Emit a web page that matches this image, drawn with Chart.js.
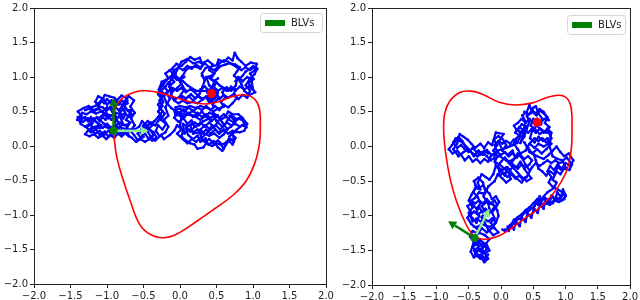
<!DOCTYPE html>
<html>
<head>
<meta charset="utf-8">
<script src="https://cdn.jsdelivr.net/npm/chart.js@4/dist/chart.umd.min.js"></script>
<style>
  body { margin: 0; background: #fff; }
  .panel { position: absolute; top: 0; }
</style>
</head>
<body>
<div class="panel" style="left:0px"><canvas id="left" width="340" height="300"></canvas></div>
<div class="panel" style="left:340px"><canvas id="right" width="300" height="300"></canvas></div>
<script>
const tickValues = [-2, -1.5, -1, -0.5, 0, 0.5, 1, 1.5, 2];
const legendLabel = "BLVs";

// left panel: walk traced in several passes (null = pen up)
const walkLeftA = [
  [0.43,0.76],[0.36,0.70],[0.40,0.63],[0.47,0.68],[0.52,0.77],[0.45,0.84],[0.50,0.92],[0.42,0.97],[0.47,1.05],[0.40,1.10],
  [0.45,1.18],[0.38,1.24],[0.30,1.20],[0.27,1.28],[0.20,1.25],[0.14,1.29],[0.08,1.22],[0.02,1.16],[-0.05,1.19],[-0.11,1.12],
  [-0.06,1.05],[-0.14,1.00],[-0.08,0.93],[-0.15,0.86],[-0.10,0.79],[-0.04,0.84],[0.02,0.90],[0.06,0.82],[0.01,0.74],[0.08,0.69],
  [0.15,0.75],[0.21,0.69],[0.27,0.76],[0.31,0.86],[0.34,0.95],[0.30,1.05],[0.35,1.13],[0.50,1.17],[0.53,1.25],[0.60,1.22],
  [0.66,1.28],[0.72,1.24],[0.75,1.35],[0.79,1.27],[0.84,1.22],[0.90,1.16],[0.97,1.21],[1.05,1.19],[1.03,1.10],[0.96,1.05],
  [1.01,0.97],[0.94,0.91],[0.99,0.83],[1.03,0.78],[0.95,0.74],[0.88,0.80],[0.84,0.90],[0.79,0.99],[0.76,0.87],[0.70,0.80],
  [0.64,0.85],[0.58,0.78],[0.62,0.70],[0.56,0.64],[0.60,0.57],[0.52,0.54],[0.45,0.50],[0.50,0.42],[0.43,0.36],[0.36,0.42],
  [0.30,0.50],[0.24,0.44],[0.18,0.52],[0.12,0.46],[0.05,0.53],[-0.02,0.48],[-0.08,0.41],[-0.02,0.35],[0.05,0.40],[0.10,0.32],
  [0.16,0.37],[0.20,0.28],[0.14,0.21],[0.08,0.26],[0.11,0.16],[0.18,0.10],[0.24,0.15],[0.28,0.06],[0.35,0.11],[0.39,0.02],
  [0.46,0.07],[0.52,-0.02],[0.58,-0.07],[0.62,0.01],[0.67,0.08],[0.72,0.02],[0.76,0.12],[0.70,0.18],[0.78,0.24],[0.85,0.30],
  [0.91,0.27],[0.88,0.36],[0.80,0.40],[0.74,0.34],[0.66,0.39],[0.61,0.30],[0.55,0.24],[0.49,0.30],[0.42,0.24],[0.34,0.30],
  [0.28,0.24],[0.33,0.18],[0.40,0.15],[0.47,0.18],[0.54,0.12],[0.60,0.17],[0.65,0.24],[0.58,0.34],[0.52,0.44],[0.40,0.48],
  [0.28,0.38],[0.18,0.44],[0.07,0.46],[-0.05,0.50],[-0.12,0.55],[-0.18,0.62],[-0.22,0.72],[-0.17,0.80],[-0.24,0.88],[-0.19,0.96],
  [-0.25,0.93],[-0.29,0.82],[-0.23,0.64],[-0.28,0.55],[-0.21,0.47],[-0.26,0.38],[-0.19,0.32],[-0.24,0.24],[-0.30,0.30],[-0.33,0.22],
  [-0.28,0.14],[-0.34,0.08],[-0.40,0.14],[-0.45,0.22],[-0.38,0.30],[-0.44,0.36],[-0.50,0.30],[-0.55,0.21],[-0.50,0.13],[-0.58,0.09],
  [-0.63,0.16],[-0.68,0.22],[-0.62,0.30],[-0.67,0.40],[-0.62,0.48],[-0.68,0.57],[-0.63,0.66],[-0.70,0.72],[-0.76,0.65],[-0.80,0.56],
  [-0.75,0.48],[-0.82,0.42],[-0.78,0.32],[-0.84,0.26],[-0.90,0.32],[-0.87,0.42],[-0.93,0.50],[-0.88,0.60],[-0.94,0.66],[-1.00,0.60],
  [-1.05,0.68],[-1.12,0.72],[-1.16,0.64],[-1.10,0.56],[-1.18,0.52],[-1.25,0.58],[-1.32,0.55],[-1.40,0.50],[-1.35,0.44],[-1.41,0.38],
  [-1.33,0.35],[-1.26,0.40],[-1.20,0.33],[-1.28,0.27],[-1.22,0.20],[-1.15,0.24],[-1.10,0.16],[-1.03,0.21],[-0.98,0.13],[-0.93,0.20],
  [-0.98,0.28],[-1.05,0.33],[-1.12,0.40],[-1.05,0.46],[-0.98,0.40],[-1.02,0.52],[-0.96,0.56]
];
const walkLeftB = [
  [-0.92,0.62],[-0.85,0.68],[-0.80,0.73],[-0.74,0.70],[-0.72,0.62],[-0.78,0.58],[-0.84,0.52],[-0.80,0.46],[-0.88,0.48],[-0.95,0.44],
  [-1.02,0.47],[-1.08,0.50],[-1.15,0.47],[-1.22,0.50],[-1.28,0.46],[-1.34,0.48],[-1.38,0.42],[-1.30,0.40],[-1.24,0.36],[-1.18,0.40],
  [-1.14,0.34],[-1.08,0.30],[-1.14,0.26],[-1.20,0.28],[-1.26,0.22],[-1.30,0.17],[-1.24,0.14],[-1.18,0.17],[-1.12,0.12],[-1.06,0.15],
  [-1.01,0.10],[-0.96,0.16],[-0.90,0.12],[-0.85,0.18],[-0.80,0.14],[-0.74,0.19],[-0.70,0.14],[-0.73,0.28],[-0.68,0.34],[-0.74,0.38],
  [-0.70,0.45],[-0.66,0.52],[-0.72,0.52],[-0.76,0.58],[-0.84,0.62],[-0.90,0.70],[-0.97,0.72],[-1.03,0.74],[-1.08,0.64],[-1.12,0.58],
  [-1.06,0.56],[-1.00,0.52],[-0.94,0.56],[-0.86,0.36],[-0.80,0.26],[-0.72,0.24],[-0.62,0.24],[-0.56,0.28],[-0.52,0.36],[-0.46,0.30],
  [-0.42,0.24],[-0.36,0.20],[-0.32,0.12],[-0.38,0.08],[-0.44,0.12],[-0.48,0.18],[-0.54,0.12],[-0.58,0.18],[-0.50,0.26],[-0.42,0.32],
  [-0.35,0.36],[-0.30,0.42],[-0.24,0.50],[-0.30,0.60],[-0.25,0.68],[-0.30,0.75],[-0.26,0.85],[-0.21,0.92],[-0.16,0.98],[-0.20,1.05],
  [-0.14,1.10],[-0.10,1.05],[-0.14,0.92],[-0.12,0.72],[-0.08,0.66],[-0.02,0.62],[0.04,0.66],[0.10,0.62],[0.18,0.64],[0.24,0.62],
  [0.32,0.68],[0.26,0.72],[0.20,0.78],[0.14,0.82],[0.08,0.78],[0.04,0.86],[-0.02,0.96],[0.04,1.02],[0.08,1.10],[0.14,1.14],
  [0.22,1.15],[0.28,1.12],[0.32,1.18],[0.26,1.22],[0.18,1.20],[0.10,1.26],[0.02,1.22],[-0.04,1.10],[-0.09,1.00],[-0.04,0.96],
  [0.04,0.94],[0.10,0.88],[0.22,0.80],[0.30,0.80],[0.36,0.80],[0.40,0.72],[0.46,0.62],[0.54,0.70],[0.48,0.78],[0.40,0.88],
  [0.36,1.00],[0.44,1.02],[0.50,1.10],[0.56,1.16],[0.62,1.18],[0.68,1.20],[0.76,1.18],[0.82,1.14],[0.78,1.08],[0.74,1.02],
  [0.80,0.96],[0.86,1.02],[0.90,1.08],[0.96,1.12],[1.00,1.16],[1.06,1.12],[1.02,1.04],[0.96,0.98],[0.90,0.88],[0.96,0.80],
  [0.92,0.70],[0.86,0.74],[0.80,0.68],[0.74,0.76],[0.76,0.82],[0.70,0.86],[0.66,0.80],[0.60,0.84],[0.54,0.88],[0.48,0.95],
  [0.44,0.86],[0.38,0.78],[0.46,0.56]
];
const walkLeftC = [
  [0.40,0.54],[0.34,0.56],[0.28,0.58],[0.22,0.55],[0.14,0.58],[0.08,0.56],[0.00,0.58],[-0.06,0.56],[-0.04,0.46],[0.02,0.42],
  [0.00,0.30],[0.04,0.22],[0.02,0.14],[0.08,0.08],[0.14,0.04],[0.20,0.02],[0.24,-0.04],[0.32,-0.02],[0.36,0.04],[0.44,0.00],
  [0.50,0.04],[0.56,0.02],[0.60,-0.04],[0.64,0.04],[0.68,0.14],[0.74,0.20],[0.82,0.20],[0.88,0.22],[0.92,0.32],[0.86,0.40],
  [0.80,0.46],[0.72,0.46],[0.66,0.50],[0.62,0.42],[0.56,0.38],[0.50,0.36],[0.46,0.44],[0.40,0.40],[0.32,0.36],[0.26,0.30],
  [0.20,0.34],[0.14,0.30],[0.18,0.18],[0.26,0.20],[0.30,0.12],[0.38,0.20],[0.44,0.30],[0.52,0.20],[0.60,0.22],[0.70,0.28],
  [0.76,0.36],[0.68,0.44]
];
const walkLeftD = [
  [-0.72,0.66],[-0.76,0.62],[-0.80,0.66],[-0.84,0.60],[-0.88,0.66],[-0.92,0.60],[-0.96,0.64],[-1.00,0.68],[-1.04,0.62],[-1.08,0.66],
  [-1.12,0.62],[-1.16,0.58],[-1.22,0.56],[-1.30,0.52],[-1.24,0.54],[-1.18,0.50],[-1.12,0.54],[-1.06,0.50],[-1.00,0.56],[-0.94,0.52],
  [-0.88,0.56],[-0.82,0.50],[-0.76,0.54],[-0.70,0.50],[-0.66,0.46],[-0.70,0.42],[-0.74,0.46],[-0.78,0.40],[-0.82,0.46],[-0.86,0.40],
  [-0.90,0.44],[-0.94,0.38],[-0.98,0.44],[-1.02,0.38],[-1.06,0.42],[-1.10,0.36],[-1.14,0.42],[-1.18,0.36],[-1.22,0.42],[-1.26,0.36],
  [-1.30,0.42],[-1.36,0.38],[-1.40,0.42],[-1.36,0.32],[-1.30,0.28],[-1.24,0.32],[-1.18,0.26],[-1.12,0.30],[-1.06,0.26],[-1.00,0.32],
  [-0.94,0.26],[-0.88,0.30],[-0.82,0.34],[-0.76,0.30],[-0.70,0.32],[-0.74,0.22],[-0.80,0.18],[-0.86,0.22],[-0.92,0.16],[-0.98,0.22],
  [-1.04,0.16],[-1.10,0.22],[-1.16,0.18],[-1.22,0.24],[-1.16,0.28],[-1.10,0.26],[-1.04,0.28],[-0.98,0.26],[-0.92,0.28],[-0.86,0.26],
  [-0.80,0.22],[-0.72,0.16],[-0.66,0.12],[-0.60,0.06],[-0.54,0.10],
  [-0.48,0.06],[-0.42,0.10],[-0.36,0.16],[-0.40,0.22],[-0.46,0.26],[-0.40,0.34],[-0.34,0.30],[-0.30,0.36],[-0.26,0.44],[-0.30,0.50],
  [-0.24,0.58],[-0.28,0.66],[-0.22,0.76],[-0.26,0.80],[-0.20,0.86],[-0.16,0.92],[-0.12,0.84],[-0.18,0.76],[-0.14,0.68],[-0.20,0.56],
  [-0.16,0.44],[-0.22,0.38],[-0.16,0.28],[-0.20,0.20],[-0.26,0.16],[-0.22,0.10],[-0.14,0.16],[-0.08,0.22],[-0.04,0.30],[0.02,0.24],
  [-0.04,0.18],[0.04,0.10],[0.10,0.04],[0.16,0.10],[0.22,0.06],[0.28,0.12],[0.34,0.06],[0.40,0.10],[0.46,0.04],[0.52,0.08],
  [0.58,0.02],[0.64,0.06],[0.70,0.10],[0.74,0.06],[0.72,0.22],[0.66,0.18],[0.60,0.24],[0.54,0.18],[0.48,0.24],[0.42,0.18],
  [0.36,0.24],[0.30,0.18],[0.24,0.24],[0.18,0.20],[0.12,0.24],[0.06,0.18],[0.04,0.32],[0.10,0.28],[0.16,0.32],[0.22,0.28],
  [0.28,0.34],[0.34,0.28],[0.40,0.34],[0.46,0.28],[0.52,0.34],[0.58,0.28],[0.64,0.34],[0.70,0.30],[0.76,0.32],[0.82,0.28],
  [0.88,0.32],[0.84,0.42],[0.78,0.38],[0.72,0.44],[0.66,0.40],[0.60,0.46],[0.54,0.40],[0.48,0.46],[0.42,0.40],[0.36,0.46],
  [0.30,0.42],[0.24,0.48],[0.18,0.42],[0.12,0.48],[0.06,0.42],[0.00,0.46],[-0.06,0.44],[-0.08,0.52],[0.00,0.54],[0.06,0.50],
  [0.12,0.56],[0.18,0.50],[0.24,0.56],[0.30,0.52],[0.36,0.58],[0.42,0.52],[0.48,0.58],[0.54,0.52],[0.60,0.60],[0.66,0.56],
  [0.72,0.62],[0.78,0.70],[0.72,0.74],[0.66,0.70],[0.60,0.74],[0.54,0.68],[0.48,0.72],[0.42,0.66],[0.36,0.72],[0.30,0.68],
  [0.24,0.72],[0.18,0.66],[0.12,0.72],[0.06,0.66],[0.00,0.72],[-0.06,0.68],[-0.12,0.72],[-0.10,0.84],[-0.04,0.80],[0.02,0.84],
  [0.08,0.80], null,
  [0.28,0.82],[0.34,0.86],[0.40,0.80],[0.46,0.86],[0.52,0.80],[0.58,0.84],[0.64,0.80],[0.70,0.84],[0.76,0.80],
  [0.82,0.86],[0.88,0.82],[0.94,0.86],[1.00,0.82],[0.98,0.96],[0.92,1.00],[0.86,0.94],[0.80,1.00],[0.76,0.94], null,
  [0.52,0.98],[0.46,0.94],[0.40,1.00],[0.34,0.96],[0.30,1.02], null,
  [0.06,1.00],[0.00,0.96],[-0.06,1.02],[-0.12,0.96],[-0.08,1.10],[-0.02,1.14],
  [0.04,1.10],[0.10,1.16],[0.16,1.12],[0.22,1.18],[0.28,1.14],[0.34,1.20],[0.40,1.14],[0.46,1.10],[0.52,1.14],[0.54,1.20],
  [0.60,1.24],[0.66,1.22],[0.72,1.18],[0.78,1.14],[0.84,1.10],[0.90,1.14],[0.96,1.10],[1.02,1.14]
];

const curveLeft = [
  [-0.91,0.22],[-0.89,0.53],[-0.78,0.70],[-0.59,0.79],[-0.46,0.80],[-0.27,0.77],[-0.05,0.70],[0.18,0.63],[0.37,0.61],[0.55,0.65],
  [0.73,0.72],[0.91,0.74],[1.03,0.67],[1.09,0.53],[1.10,0.29],[1.09,0.05],[1.03,-0.23],[0.91,-0.50],[0.73,-0.71],[0.46,-0.92],
  [0.23,-1.09],[-0.05,-1.28],[-0.23,-1.33],[-0.41,-1.28],[-0.55,-1.14],[-0.68,-0.80],[-0.80,-0.42],[-0.87,-0.14],[-0.90,0.10],[-0.91,0.22]
];
const dotLeft = [0.43, 0.76];
const baseLeft = [-0.91, 0.22];
const tipsLeft = [[-0.91, 0.70], [-0.43, 0.22]];

// right panel
const walkRightA = [
  [-0.41,-1.32],[-0.36,-1.40],[-0.44,-1.45],[-0.38,-1.52],[-0.30,-1.47],[-0.25,-1.55],[-0.20,-1.62],[-0.26,-1.67],[-0.31,-1.60],[-0.36,-1.56],
  [-0.42,-1.60],[-0.47,-1.52],[-0.43,-1.40],[-0.33,-1.35],[-0.24,-1.41],[-0.18,-1.34],[-0.25,-1.28],[-0.33,-1.25],[-0.38,-1.18],[-0.46,-1.12],
  [-0.52,-1.03],[-0.47,-0.95],[-0.52,-0.86],[-0.45,-0.82],[-0.38,-0.90],[-0.32,-0.82],[-0.36,-0.73],[-0.43,-0.66],[-0.38,-0.58],[-0.42,-0.50],
  [-0.35,-0.45],[-0.28,-0.52],[-0.25,-0.62],[-0.18,-0.68],[-0.14,-0.76],[-0.08,-0.72],[-0.03,-0.80],[-0.08,-0.88],[-0.14,-0.95],[-0.10,-1.04],
  [-0.16,-1.10],[-0.10,-1.18],[-0.04,-1.24],[-0.12,-1.28],[-0.20,-1.20],[-0.25,-1.10],[-0.30,-1.02],[-0.24,-0.94],[-0.30,-0.86],[-0.22,-0.80],
  [-0.27,-0.72],[-0.20,-0.58],[-0.10,-0.50],[-0.05,-0.40],[0.02,-0.46],[0.08,-0.52],[0.15,-0.47],[0.12,-0.38],[0.05,-0.32],[-0.02,-0.26],
  [-0.10,-0.22],[-0.05,-0.14],[-0.12,-0.06],[-0.06,0.02],[-0.11,0.10],[-0.04,0.15],[0.03,0.10],[0.08,0.02],[0.02,-0.06],[0.10,-0.12],
  [0.18,-0.06],[0.22,-0.16],[0.16,-0.24],[0.24,-0.30],[0.30,-0.22],[0.36,-0.32],[0.42,-0.40],[0.47,-0.46],[0.40,-0.50],[0.32,-0.44],
  [0.26,-0.38],[0.18,-0.30],[0.08,-0.20],[-0.02,-0.14],[-0.15,-0.12],[-0.22,-0.05],[-0.28,-0.12],[-0.35,-0.06],[-0.42,-0.14],[-0.48,-0.06],
  [-0.55,0.00],[-0.60,0.08],[-0.66,0.14],[-0.70,0.08],[-0.76,0.02],[-0.81,-0.04],[-0.75,-0.10],[-0.68,-0.06],[-0.62,-0.12],[-0.56,-0.20],
  [-0.50,-0.14],[-0.44,-0.22],[-0.38,-0.18],[-0.32,-0.24],[-0.26,-0.18],[-0.20,-0.22],[-0.16,-0.14],[-0.05,-0.06],[0.08,-0.02],[0.18,0.02],
  [0.25,0.05],[0.30,0.15],[0.22,0.20],[0.28,0.28],[0.35,0.24],[0.38,0.36],[0.33,0.45],[0.40,0.50],[0.44,0.60],[0.48,0.50],
  [0.55,0.45],[0.60,0.52],[0.66,0.48],[0.72,0.42],[0.68,0.34],[0.75,0.28],[0.70,0.20],[0.62,0.25],[0.55,0.30],[0.48,0.22],
  [0.45,0.12],[0.52,0.06],[0.58,0.14],[0.65,0.08],[0.72,0.12],[0.78,0.04],[0.70,-0.04],[0.63,-0.10],[0.56,-0.04],[0.48,-0.10],
  [0.42,-0.02],[0.36,0.06],[0.44,-0.08],[0.56,-0.14],[0.66,-0.18],[0.74,-0.12],[0.80,-0.06],[0.86,0.00],[0.92,-0.08],[0.98,-0.14],
  [1.05,-0.10],[1.12,-0.20],[1.08,-0.28],[1.00,-0.24],[0.94,-0.32],[0.88,-0.26],[0.82,-0.34],[0.76,-0.28],[0.72,-0.36],[0.78,-0.44],
  [0.74,-0.52],[0.80,-0.58],[0.88,-0.62],[0.95,-0.66],[1.00,-0.72],[0.94,-0.78],[0.86,-0.74],[0.80,-0.82],[0.72,-0.78],[0.64,-0.84],
  [0.56,-0.80],[0.60,-0.72],[0.52,-0.86],[0.44,-0.92],[0.36,-0.96],[0.30,-1.04],[0.24,-1.06],[0.18,-1.12],[0.12,-1.18],[0.06,-1.22],
  [0.02,-1.20]
];
const walkRightB = [
  [0.06,-1.20],[0.12,-1.22],[0.15,-1.14],[0.20,-1.20],[0.23,-1.08],[0.29,-1.15],[0.32,-1.02],[0.38,-1.09],[0.41,-0.96],[0.47,-1.03],
  [0.51,-0.89],[0.57,-0.96],[0.60,-0.83],[0.66,-0.90],[0.69,-0.77],[0.75,-0.84],[0.78,-0.71],[0.84,-0.78],[0.87,-0.66],[0.93,-0.73],
  [0.96,-0.62],[1.00,-0.70],[0.98,-0.76],[0.90,-0.80],[0.82,-0.78],
  [0.76,-0.84],[0.68,-0.82],[0.60,-0.86],[0.54,-0.82],[0.62,-0.76],[0.72,-0.66],[0.82,-0.60],[0.86,-0.52],[0.80,-0.48],[0.86,-0.36],
  [0.92,-0.40],[0.98,-0.32],[1.06,-0.34],[1.10,-0.26],[1.02,-0.16],[0.96,-0.20],[0.88,-0.18],[0.80,-0.14],[0.74,0.04],[0.78,0.12],
  [0.74,0.20],[0.66,0.22],[0.60,0.18],[0.52,0.26],[0.46,0.30],[0.50,0.40],[0.56,0.36],[0.62,0.32],[0.64,0.40],[0.58,0.48],
  [0.54,0.58],[0.50,0.56],[0.46,0.48],[0.40,0.44],[0.44,0.36],[0.40,0.26],[0.36,0.14],[0.30,0.05],[0.38,0.30],[0.32,0.32],
  [0.26,0.24],[0.32,0.20],[0.24,0.12],[0.20,0.04],[0.26,-0.04],[0.30,-0.10],[0.38,-0.06],[0.44,0.04],[0.52,-0.02],[0.58,0.04],
  [0.66,0.00],[0.74,0.04], null,
  [0.44,-0.34],[0.38,-0.26],[0.32,-0.16],[0.26,-0.10],[0.20,-0.18],[0.12,-0.22],[0.06,-0.16],[0.00,-0.22],
  [-0.06,-0.30],[0.00,-0.36],[0.06,-0.42],[0.10,-0.30],[0.18,-0.40],[0.24,-0.46],[0.32,-0.52],[0.38,-0.44], null,
  [0.02,-0.04],[-0.04,0.06],
  [0.04,0.18],[-0.08,0.20],[-0.14,0.02],[-0.20,0.06],[-0.26,-0.02],[-0.32,0.04],[-0.40,-0.02],[-0.46,0.04],[-0.52,0.10],[-0.58,0.14],
  [-0.64,0.18],[-0.68,0.04],[-0.74,-0.04],[-0.66,-0.14],[-0.58,-0.08],[-0.50,-0.04],[-0.44,-0.10],[-0.36,-0.14],[-0.30,-0.08],[-0.22,-0.14],
  [-0.16,-0.20],[-0.10,-0.16],[-0.08,-0.28],[-0.12,-0.40],[-0.18,-0.48],[-0.24,-0.44],[-0.30,-0.40],[-0.36,-0.52],[-0.32,-0.62],[-0.40,-0.60],[-0.46,-0.70],
  [-0.50,-0.78],[-0.44,-0.88],[-0.50,-0.96],[-0.44,-1.04],[-0.38,-1.10],[-0.34,-1.00],[-0.38,-0.94],[-0.34,-0.88],[-0.28,-0.96],[-0.20,-1.00],
  [-0.18,-0.90],[-0.20,-0.82],[-0.12,-0.84],[-0.06,-0.92],[-0.04,-1.00],[-0.08,-1.10],[-0.14,-1.18],[-0.22,-1.24],[-0.30,-1.18],[-0.36,-1.26],
  [-0.44,-1.22],[-0.48,-1.30],[-0.42,-1.38],[-0.34,-1.44],[-0.28,-1.40],[-0.22,-1.48],[-0.28,-1.54],[-0.36,-1.50],[-0.40,-1.56],[-0.32,-1.62],
  [-0.24,-1.60]
];
const walkRightC = [
  [0.36,0.50],[0.42,0.46],[0.48,0.52],[0.54,0.48],[0.60,0.54],[0.66,0.50],[0.70,0.44],[0.74,0.38],[0.68,0.40],[0.62,0.36],
  [0.56,0.40],[0.50,0.34],[0.44,0.40],[0.38,0.34],[0.32,0.40],[0.26,0.34],[0.20,0.30],[0.24,0.24],[0.30,0.20],[0.36,0.26],
  [0.42,0.20],[0.48,0.26],[0.54,0.20],[0.60,0.26],[0.66,0.20],[0.72,0.26],[0.78,0.20],[0.76,0.10],[0.70,0.06],[0.64,0.12],
  [0.58,0.08],[0.52,0.12],[0.46,0.06], null,
  [0.26,0.06],[0.20,0.10],[0.14,0.04],[0.08,0.08],[0.02,0.04],[-0.04,0.08],[-0.10,0.02],
  [-0.06,-0.08],[0.00,-0.12],[0.06,-0.08],[0.12,-0.14],[0.18,-0.10],[0.24,-0.16],[0.30,-0.12],[0.36,-0.18],[0.42,-0.14],[0.48,-0.20],
  [0.44,-0.26],[0.38,-0.30],[0.32,-0.26],[0.26,-0.32],[0.20,-0.28],[0.14,-0.34],[0.08,-0.30],[0.02,-0.34],[-0.04,-0.30],[-0.02,-0.42],
  [0.04,-0.38],[0.10,-0.44],[0.16,-0.40],[0.22,-0.46],[0.28,-0.42],[0.34,-0.48],[0.40,-0.44],[0.48,-0.30],[0.54,-0.24],[0.60,-0.28],
  [0.66,-0.24],[0.72,-0.20],[0.78,-0.24],[0.84,-0.20],[0.90,-0.24],[0.96,-0.22],[1.00,-0.30],[0.94,-0.34],[0.88,-0.30],[0.82,-0.40],
  [0.76,-0.36],[0.70,-0.42],[0.64,-0.36],[0.58,-0.32],[0.54,-0.20],[0.50,-0.10], null,
  [-0.20,-0.10],[-0.26,-0.06],[-0.32,-0.12],[-0.38,-0.08],
  [-0.44,-0.02],[-0.50,-0.08],[-0.56,-0.04],[-0.62,0.02],[-0.68,-0.02],[-0.74,0.06],[-0.70,0.12],[-0.64,0.08],[-0.58,0.04],[-0.52,-0.02], null,
  [-0.40,-0.56],[-0.34,-0.60],[-0.28,-0.56],[-0.22,-0.64],[-0.28,-0.68],[-0.34,-0.66],[-0.40,-0.74],[-0.46,-0.78],[-0.40,-0.82],[-0.34,-0.78],
  [-0.28,-0.82],[-0.22,-0.76],[-0.16,-0.82],[-0.10,-0.78],[-0.06,-0.84],[-0.12,-0.90],[-0.18,-0.96],[-0.24,-0.90],[-0.30,-0.94],[-0.36,-0.98],
  [-0.42,-0.94],[-0.48,-1.00],[-0.44,-1.08],[-0.38,-1.04],[-0.32,-1.08],[-0.26,-1.04],[-0.20,-1.08],[-0.14,-1.04],[-0.08,-1.08],[-0.12,-1.14],
  [-0.18,-1.16],[-0.24,-1.14],[-0.30,-1.12],[-0.36,-1.16],[-0.42,-1.16], null,
  [-0.40,-1.42],[-0.34,-1.38],[-0.28,-1.46],[-0.22,-1.42],[-0.18,-1.50],
  [-0.24,-1.54],[-0.30,-1.50],[-0.36,-1.46],[-0.42,-1.50],[-0.38,-1.58],[-0.30,-1.56],[-0.24,-1.64],[-0.20,-1.56], null,
  [0.10,-1.16],[0.16,-1.12],
  [0.20,-1.06],[0.26,-1.02],[0.32,-0.98],[0.38,-0.92],[0.44,-0.88],[0.50,-0.82],[0.56,-0.76],[0.62,-0.80],[0.68,-0.74],[0.74,-0.78],
  [0.80,-0.72],[0.86,-0.78],[0.92,-0.74],[0.98,-0.68]
];
const curveRight = [
  [-0.41,-1.32],[-0.54,-1.13],[-0.69,-0.79],[-0.79,-0.46],[-0.86,-0.08],[-0.89,0.25],[-0.87,0.49],[-0.79,0.66],[-0.64,0.78],[-0.46,0.80],
  [-0.28,0.75],[-0.03,0.64],[0.23,0.60],[0.49,0.63],[0.69,0.70],[0.90,0.74],[1.03,0.69],[1.09,0.54],[1.10,0.25],[1.09,-0.03],
  [1.03,-0.32],[0.92,-0.53],[0.79,-0.70],[0.59,-0.89],[0.38,-1.03],[0.18,-1.17],[-0.03,-1.29],[-0.23,-1.34],[-0.38,-1.32],[-0.41,-1.32]
];
const dotRight = [0.56, 0.35];
const baseRight = [-0.41, -1.32];
const tipsRight = [[-0.82, -1.08], [-0.18, -0.90]];

const arrowColors = ["#008000", "#90ee90"];

function pts(list) {
  return list.map(p => ({ x: p[0], y: p[1] }));
}

// split a walk at its null markers into separate strokes
function strokes(list) {
  const out = [[]];
  list.forEach(p => {
    if (p === null) out.push([]);
    else out[out.length - 1].push(p);
  });
  return out.filter(s => s.length);
}

function fmt(v) {
  return v.toFixed(1).replace("-", "\u2212");
}

function makePanel(id, walks, curve, dot, base, tips, box) {
  const arrowPlugin = {
    id: "arrows",
    afterDatasetsDraw(chart) {
      const c = chart.ctx;
      const sx = chart.scales.x, sy = chart.scales.y;
      const bx = sx.getPixelForValue(base[0]), by = sy.getPixelForValue(base[1]);
      // light arrow first, dark on top
      for (let i = tips.length - 1; i >= 0; i--) {
        const tx = sx.getPixelForValue(tips[i][0]), ty = sy.getPixelForValue(tips[i][1]);
        const ang = Math.atan2(ty - by, tx - bx);
        const hl = 8, hw = 4.5;
        const ex = tx - hl * Math.cos(ang), ey = ty - hl * Math.sin(ang);
        c.save();
        c.strokeStyle = arrowColors[i];
        c.fillStyle = arrowColors[i];
        c.lineWidth = 2.5;
        c.beginPath();
        c.moveTo(bx, by);
        c.lineTo(ex, ey);
        c.stroke();
        c.beginPath();
        c.moveTo(tx, ty);
        c.lineTo(ex - hw * Math.sin(ang), ey + hw * Math.cos(ang));
        c.lineTo(ex + hw * Math.sin(ang), ey - hw * Math.cos(ang));
        c.closePath();
        c.fill();
        c.restore();
      }
      c.save();
      c.fillStyle = "#008000";
      c.beginPath();
      c.arc(bx, by, 4, 0, Math.PI * 2);
      c.fill();
      c.restore();
    },
    afterDraw(chart) {
      const c = chart.ctx;
      const a = chart.chartArea;
      c.save();
      c.strokeStyle = "#222";
      c.lineWidth = 1;
      c.strokeRect(Math.round(a.left) + 0.5, Math.round(a.top) + 0.5, Math.round(a.right - a.left), Math.round(a.bottom - a.top));
      // legend
      const w = box.w, h = 19;
      const x = a.right - box.gap - w, y = a.top + box.top;
      c.fillStyle = "rgba(255,255,255,0.8)";
      c.strokeStyle = "#d6d6d6";
      c.beginPath();
      c.roundRect(x + 0.5, y + 0.5, w, h, 3);
      c.fill();
      c.stroke();
      c.fillStyle = "#008000";
      c.fillRect(x + 5, y + 7, 20, 6);
      c.fillStyle = "#222";
      c.font = "10px 'DejaVu Sans'";
      c.textBaseline = "middle";
      c.fillText(legendLabel, x + 31, y + 10);
      c.restore();
    }
  };

  const axis = (size, isY) => ({
    type: "linear",
    min: -2,
    max: 2,
    grid: { drawOnChartArea: false, drawTicks: true, tickLength: 4, color: "#222", tickWidth: 1 },
    border: { display: false },
    ticks: {
      font: { family: "DejaVu Sans", size: 10 },
      color: "#222",
      padding: 2,
      maxRotation: 0,
      autoSkip: false,
      callback: v => fmt(v)
    },
    afterBuildTicks: s => { s.ticks = tickValues.map(v => ({ value: v })); },
    afterFit: s => { if (isY) s.width = size; else s.height = size; }
  });

  const walkSets = [];
  walks.forEach(w => strokes(w).forEach(s => walkSets.push({
    data: pts(s),
    borderColor: "#0000ff",
    borderWidth: 2.2,
    borderJoinStyle: "round",
    tension: 0,
    pointRadius: 1.3,
    pointBackgroundColor: "#0000ff",
    pointBorderWidth: 0,
    fill: false,
    order: 3
  })));

  new Chart(document.getElementById(id), {
    type: "line",
    data: {
      datasets: [
        {
          data: [{ x: dot[0], y: dot[1] }],
          showLine: false,
          pointRadius: 4.5,
          pointBackgroundColor: "#ff0000",
          pointBorderWidth: 0,
          order: 1
        },
        {
          data: pts(curve),
          borderColor: "#ff0000",
          borderWidth: 1.6,
          tension: 0.4,
          pointRadius: 0,
          fill: false,
          order: 2
        },
        ...walkSets
      ]
    },
    options: {
      responsive: false,
      animation: false,
      layout: { padding: box.pad },
      plugins: { legend: { display: false }, tooltip: { enabled: false } },
      scales: { x: axis(box.xh, false), y: axis(box.yw, true) }
    },
    plugins: [arrowPlugin]
  });
}

makePanel("left", [walkLeftA, walkLeftB, walkLeftC, walkLeftD], curveLeft, dotLeft, baseLeft, tipsLeft,
  { pad: { left: 0, right: 14, top: 4, bottom: 0 }, yw: 34, xh: 16, w: 62, gap: 4, top: 5 });
makePanel("right", [walkRightA, walkRightB, walkRightC], curveRight, dotRight, baseRight, tipsRight,
  { pad: { left: 0, right: 8, top: 6, bottom: 0 }, yw: 32, xh: 15, w: 58, gap: 5, top: 7 });
</script>
</body>
</html>
